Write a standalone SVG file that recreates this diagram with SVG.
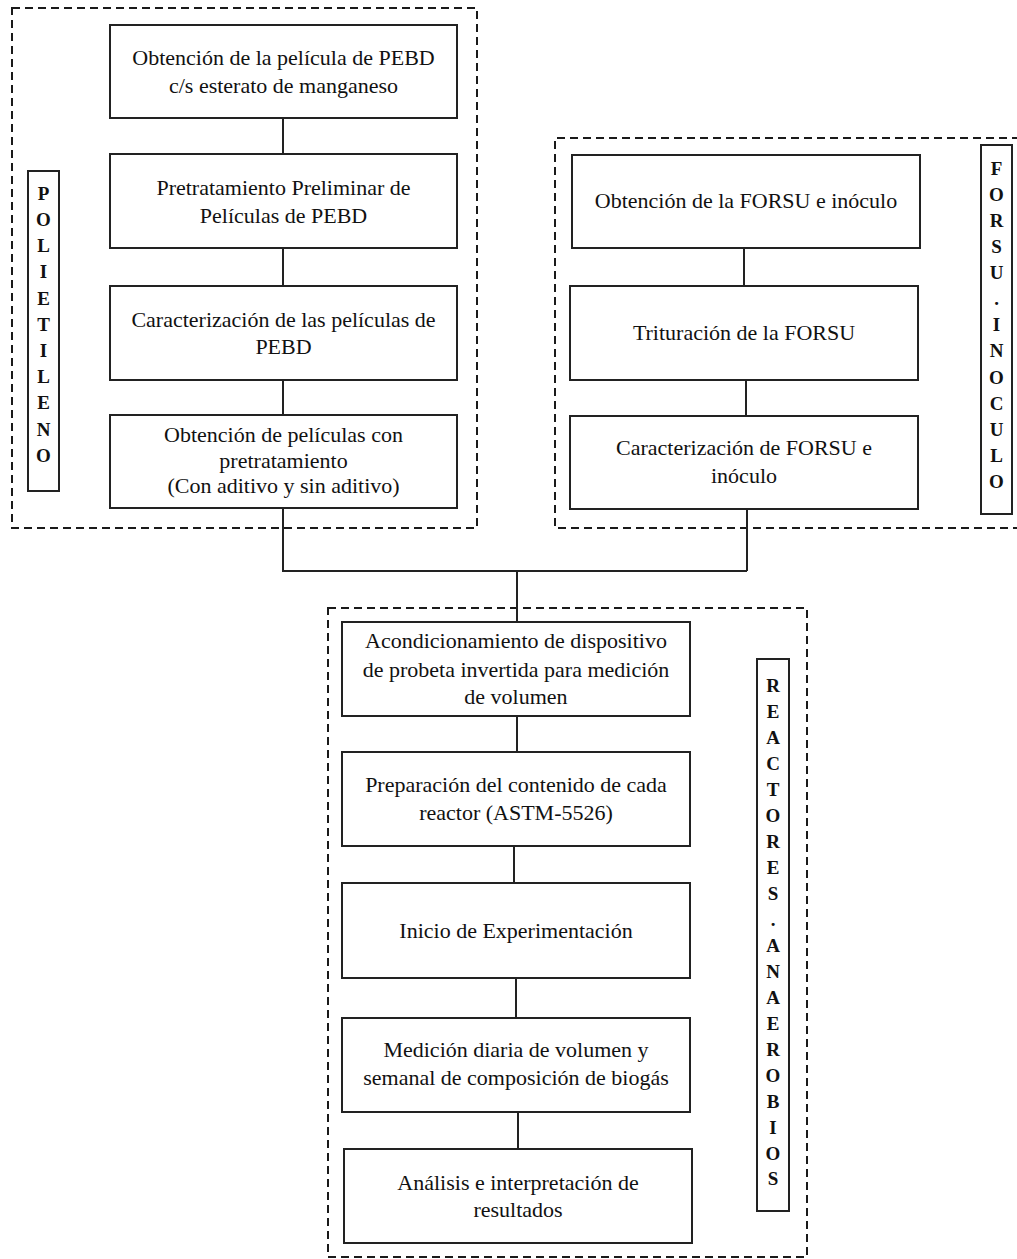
<svg xmlns="http://www.w3.org/2000/svg" width="1017" height="1259" viewBox="0 0 1017 1259">
<style>
.grp{fill:none;stroke:#1a1a1a;stroke-width:2;stroke-dasharray:8 5}
.box{fill:#fff;stroke:#222;stroke-width:2}
.lbl{fill:#fff;stroke:#222;stroke-width:2}
.t{font-family:"Liberation Serif","Times New Roman",serif;font-size:22px;fill:#111;text-anchor:middle}
.v{font-family:"Liberation Serif","Times New Roman",serif;font-size:19px;font-weight:bold;fill:#111;text-anchor:middle}
.c{fill:none;stroke:#222;stroke-width:2}
</style>
<rect width="1017" height="1259" fill="#fff"/>
<g id="groups">
<rect class="grp" x="12" y="8" width="465" height="520"/>
<path class="grp" d="M1020 138 H555 V528 H1020"/>
<rect class="grp" x="328" y="608" width="479" height="649"/>
</g>
<g id="connectors">
<path class="c" d="M283 118 V154 M283 248 V286 M283 380 V415 M283 508 V571 H747 M744 248 V286 M746 380 V416 M747 509 V571 M517 571 V622 M517 716 V752 M514 846 V883 M516 978 V1018 M518 1112 V1149"/>
</g>
<g id="n1"><rect class="box" x="110" y="25" width="347" height="93"/>
<text class="t" x="283.5" y="65">Obtención de la película de PEBD</text>
<text class="t" x="283.5" y="93">c/s esterato de manganeso</text></g>
<g id="n2"><rect class="box" x="110" y="154" width="347" height="94"/>
<text class="t" x="283.5" y="195">Pretratamiento Preliminar de</text>
<text class="t" x="283.5" y="223">Películas de PEBD</text></g>
<g id="n3"><rect class="box" x="110" y="286" width="347" height="94"/>
<text class="t" x="283.5" y="327">Caracterización de las películas de</text>
<text class="t" x="283.5" y="354">PEBD</text></g>
<g id="n4"><rect class="box" x="110" y="415" width="347" height="93"/>
<text class="t" x="283.5" y="442">Obtención de películas con</text>
<text class="t" x="283.5" y="468">pretratamiento</text>
<text class="t" x="283.5" y="493">(Con aditivo y sin aditivo)</text></g>
<g id="lbl-polietileno"><rect class="lbl" x="28" y="171" width="31" height="320"/>
<text class="v" x="43.5" y="200">P</text><text class="v" x="43.5" y="226">O</text><text class="v" x="43.5" y="252">L</text><text class="v" x="43.5" y="278">I</text><text class="v" x="43.5" y="305">E</text><text class="v" x="43.5" y="331">T</text><text class="v" x="43.5" y="357">I</text><text class="v" x="43.5" y="383">L</text><text class="v" x="43.5" y="409">E</text><text class="v" x="43.5" y="436">N</text><text class="v" x="43.5" y="462">O</text></g>
<g id="f1"><rect class="box" x="572" y="155" width="348" height="93"/>
<text class="t" x="746" y="208">Obtención de la FORSU e inóculo</text></g>
<g id="f2"><rect class="box" x="570" y="286" width="348" height="94"/>
<text class="t" x="744" y="340">Trituración de la FORSU</text></g>
<g id="f3"><rect class="box" x="570" y="416" width="348" height="93"/>
<text class="t" x="744" y="455">Caracterización de FORSU e</text>
<text class="t" x="744" y="483">inóculo</text></g>
<g id="lbl-forsu"><rect class="lbl" x="981" y="145" width="31" height="369"/>
<text class="v" x="996.5" y="175">F</text><text class="v" x="996.5" y="201">O</text><text class="v" x="996.5" y="227">R</text><text class="v" x="996.5" y="253">S</text><text class="v" x="996.5" y="279">U</text><text class="v" x="996.5" y="305">.</text><text class="v" x="996.5" y="331">I</text><text class="v" x="996.5" y="357">N</text><text class="v" x="996.5" y="384">O</text><text class="v" x="996.5" y="410">C</text><text class="v" x="996.5" y="436">U</text><text class="v" x="996.5" y="462">L</text><text class="v" x="996.5" y="488">O</text></g>
<g id="r1"><rect class="box" x="342" y="622" width="348" height="94"/>
<text class="t" x="516" y="648">Acondicionamiento de dispositivo</text>
<text class="t" x="516" y="677">de probeta invertida para medición</text>
<text class="t" x="516" y="704">de volumen</text></g>
<g id="r2"><rect class="box" x="342" y="752" width="348" height="94"/>
<text class="t" x="516" y="792">Preparación del contenido de cada</text>
<text class="t" x="516" y="820">reactor (ASTM-5526)</text></g>
<g id="r3"><rect class="box" x="342" y="883" width="348" height="95"/>
<text class="t" x="516" y="938">Inicio de Experimentación</text></g>
<g id="r4"><rect class="box" x="342" y="1018" width="348" height="94"/>
<text class="t" x="516" y="1057">Medición diaria de volumen y</text>
<text class="t" x="516" y="1085">semanal de composición de biogás</text></g>
<g id="r5"><rect class="box" x="344" y="1149" width="348" height="94"/>
<text class="t" x="518" y="1190">Análisis e interpretación de</text>
<text class="t" x="518" y="1217">resultados</text></g>
<g id="lbl-reactores"><rect class="lbl" x="757" y="659" width="32" height="552"/>
<text class="v" x="773" y="692">R</text><text class="v" x="773" y="718">E</text><text class="v" x="773" y="744">A</text><text class="v" x="773" y="770">C</text><text class="v" x="773" y="796">T</text><text class="v" x="773" y="822">O</text><text class="v" x="773" y="848">R</text><text class="v" x="773" y="874">E</text><text class="v" x="773" y="900">S</text><text class="v" x="773" y="926">.</text><text class="v" x="773" y="952">A</text><text class="v" x="773" y="978">N</text><text class="v" x="773" y="1004">A</text><text class="v" x="773" y="1030">E</text><text class="v" x="773" y="1056">R</text><text class="v" x="773" y="1082">O</text><text class="v" x="773" y="1108">B</text><text class="v" x="773" y="1134">I</text><text class="v" x="773" y="1160">O</text><text class="v" x="773" y="1185">S</text></g>
</svg>
